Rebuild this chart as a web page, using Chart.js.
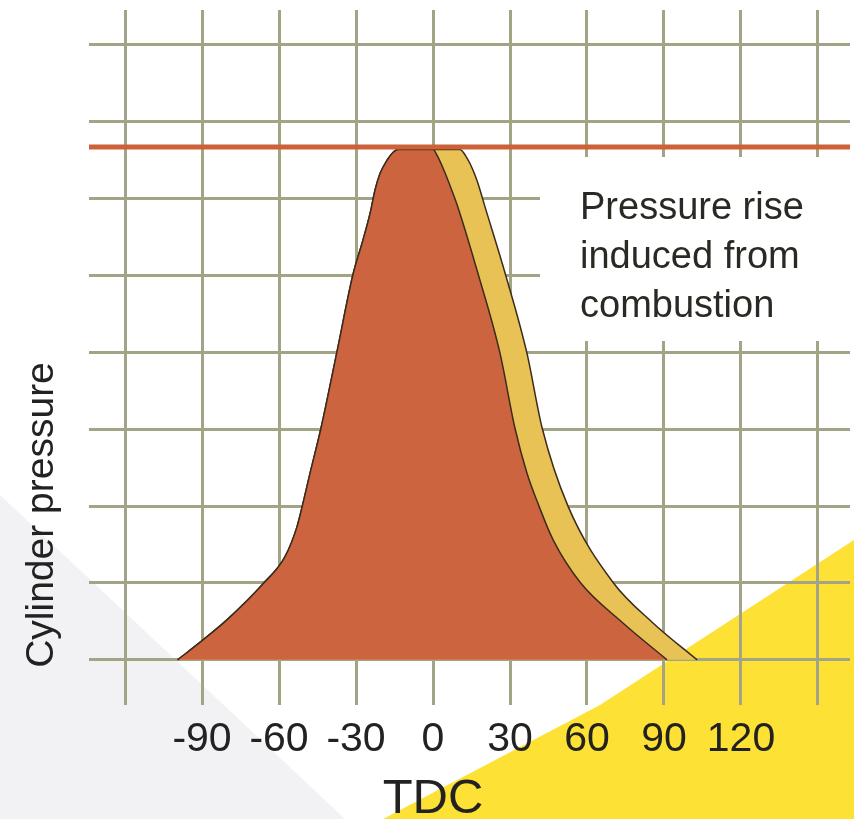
<!DOCTYPE html>
<html>
<head>
<meta charset="utf-8">
<script src="https://cdn.jsdelivr.net/npm/chart.js@4/dist/chart.umd.min.js"></script>
<style>
  html, body { margin: 0; padding: 0; background: #ffffff; }
  #wrap { width: 854px; height: 819px; position: relative; }
</style>
</head>
<body>
<div id="wrap"><canvas id="c"></canvas></div>
<script>
// ---- data ----
const tickAngles = [-120, -90, -60, -30, 0, 30, 60, 90, 120, 150];
const tickLabels = ['', '-90', '-60', '-30', '0', '30', '60', '90', '120', ''];
const pressureGrid = [0, 1, 2, 3, 4, 5, 6, 7, 8];

// motoring (orange) curve
const motorAngle = [-99.5, -89.6, -80.3, -66.2, -57.7, -53, -51, -47.9, -43.6, -37.4, -31.2, -27.3, -24.5, -22.6, -20.6, -17.9, -15.6, -13.6,
                    0, 1.8, 4.5, 7.2, 9.7, 17.5, 26.1, 31.9, 36.6, 41.3, 46.8, 57.3, 74, 91.2];
const motorPressure = [0, 0.26, 0.52, 0.99, 1.34, 1.73, 1.99, 2.43, 3.02, 4.01, 5.01, 5.46, 5.81, 6.11, 6.33, 6.50, 6.60, 6.64,
                       6.64, 6.55, 6.35, 6.12, 5.89, 5.03, 3.99, 3.02, 2.43, 2.0, 1.56, 1.01, 0.48, 0];

// firing (yellow) curve
const fireAngle = [-99.5, -89.6, -80.3, -66.2, -57.7, -53, -51, -47.9, -43.6, -37.4, -31.2, -27.3, -24.5, -22.6, -20.6, -17.9, -15.6, -13.6,
                   10.5, 13.2, 15.6, 17.5, 20.3, 28.1, 36.6, 42.5, 52.6, 70.1, 85.7, 102.9];
const firePressure = [0, 0.26, 0.52, 0.99, 1.34, 1.73, 1.99, 2.43, 3.02, 4.01, 5.01, 5.46, 5.81, 6.11, 6.33, 6.50, 6.60, 6.64,
                      6.64, 6.53, 6.37, 6.20, 5.89, 5.03, 3.99, 3.02, 2.0, 1.01, 0.48, 0];

// limit line
const limitAngle = [-134.03, 162.47];
const limitPressure = [6.673, 6.673];

const xTitle = 'TDC';
const yTitle = 'Cylinder pressure';
const noteLines = ['Pressure rise', 'induced from', 'combustion'];

const FONT = "'Liberation Sans', Arial, Helvetica, sans-serif";
const toPts = (xs, ys) => xs.map((x, i) => ({ x: x, y: ys[i] }));

const decor = {
  id: 'decor',
  beforeDraw(chart) {
    const ctx = chart.ctx;
    const W = chart.width, H = chart.height;
    ctx.save();
    ctx.fillStyle = '#ffffff';
    ctx.fillRect(0, 0, W, H);
    // light grey triangle bottom-left
    ctx.fillStyle = '#f2f2f4';
    ctx.beginPath();
    ctx.moveTo(0, 495);
    ctx.lineTo(345, H);
    ctx.lineTo(0, H);
    ctx.closePath();
    ctx.fill();
    // yellow triangle bottom-right
    ctx.fillStyle = '#fde134';
    ctx.beginPath();
    ctx.moveTo(W, 540);
    ctx.lineTo(600, 705);
    ctx.lineTo(383, H);
    ctx.lineTo(W, H);
    ctx.closePath();
    ctx.fill();
    ctx.restore();
  },
  beforeDatasetsDraw(chart) {
    const ctx = chart.ctx;
    ctx.save();
    // white panel behind note
    ctx.fillStyle = '#ffffff';
    ctx.fillRect(540, 157, chart.width - 540, 184);
    ctx.fillStyle = '#2a2a24';
    ctx.font = '38px ' + FONT;
    ctx.textAlign = 'left';
    ctx.textBaseline = 'alphabetic';
    noteLines.forEach((t, i) => ctx.fillText(t, 580, 219 + i * 49));
    ctx.restore();
  },
  afterDraw(chart) {
    const ctx = chart.ctx;
    const xs = chart.scales.x;
    ctx.save();
    ctx.fillStyle = '#222222';
    // x title centred under TDC (0)
    ctx.font = '49px ' + FONT;
    ctx.textAlign = 'center';
    ctx.textBaseline = 'alphabetic';
    ctx.fillText(xTitle, xs.getPixelForValue(0), 813);
    // y title
    ctx.font = '39px ' + FONT;
    ctx.translate(53, 515);
    ctx.rotate(-Math.PI / 2);
    ctx.fillText(yTitle, 0, 0);
    ctx.restore();
  }
};

const gridColor = '#a3a386';

new Chart(document.getElementById('c'), {
  type: 'line',
  data: {
    datasets: [
      {
        label: 'limit',
        data: toPts(limitAngle, limitPressure),
        borderColor: '#cd6138',
        borderWidth: 5,
        pointRadius: 0,
        fill: false,
        order: 0
      },
      {
        label: 'motoring',
        data: toPts(motorAngle, motorPressure),
        borderColor: '#3a2c1c',
        borderWidth: 1.5,
        backgroundColor: '#cc6440',
        pointRadius: 0,
        fill: 'origin',
        tension: 0.4,
        cubicInterpolationMode: 'monotone',
        order: 1
      },
      {
        label: 'firing',
        data: toPts(fireAngle, firePressure),
        borderColor: '#3a2c1c',
        borderWidth: 1.5,
        backgroundColor: '#e8c255',
        pointRadius: 0,
        fill: 'origin',
        tension: 0.4,
        cubicInterpolationMode: 'monotone',
        order: 2
      }
    ]
  },
  options: {
    responsive: true,
    maintainAspectRatio: false,
    animation: false,
    events: [],
    layout: { padding: { left: 89, top: 10, right: 4, bottom: 45 } },
    plugins: { legend: { display: false }, tooltip: { enabled: false }, title: { display: false } },
    scales: {
      x: {
        type: 'linear',
        min: -134.03,
        max: 162.47,
        afterBuildTicks: (s) => { s.ticks = tickAngles.map(v => ({ value: v })); },
        grid: { color: gridColor, lineWidth: 3, drawTicks: false },
        border: { display: false },
        ticks: {
          autoSkip: false,
          maxRotation: 0,
          padding: 10,
          color: '#222222',
          font: { size: 41, family: FONT },
          callback: (v) => { const i = tickAngles.indexOf(v); return i >= 0 ? tickLabels[i] : ''; }
        }
      },
      y: {
        type: 'linear',
        min: -0.585,
        max: 8.455,
        afterBuildTicks: (s) => { s.ticks = pressureGrid.map(v => ({ value: v })); },
        grid: { color: gridColor, lineWidth: 3, drawTicks: false },
        border: { display: false },
        ticks: { display: false }
      }
    }
  },
  plugins: [decor]
});
</script>
</body>
</html>
